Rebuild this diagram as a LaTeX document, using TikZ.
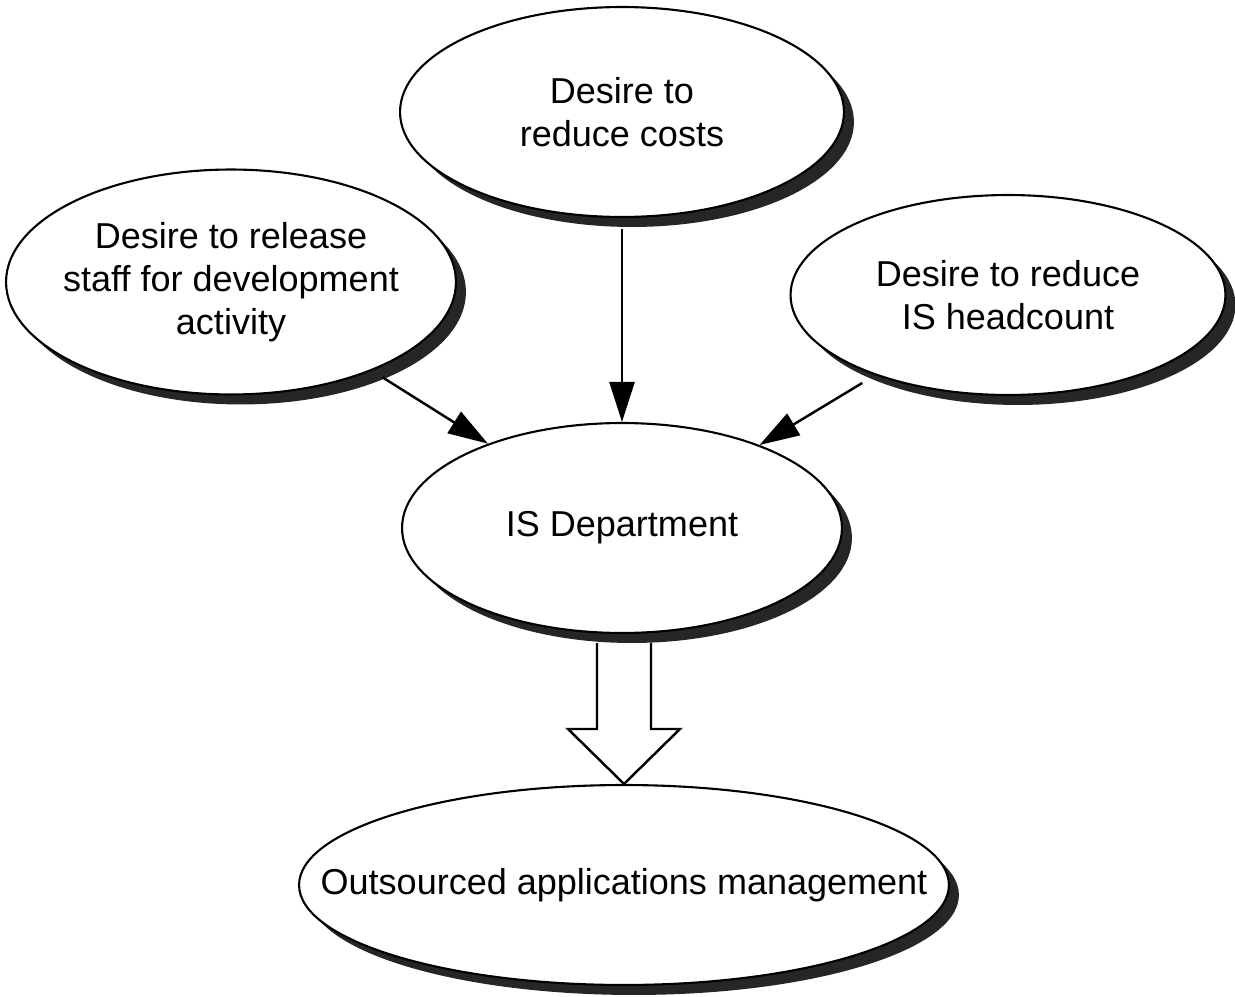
\documentclass[tikz,border=0pt]{standalone}
\usepackage{fontspec}
\setmainfont{Liberation Sans}
\usepackage{tikz}
\usetikzlibrary{shapes.geometric,shadows,arrows.meta}

\begin{document}
\begin{tikzpicture}[x=0.02cm,y=-0.02cm]
      \tikzstyle{every node}=[draw,ellipse,fill=white,line width=1.2pt,
			      align=center,inner xsep=-2cm,inner ysep=-1cm,
			      font=\fontsize{20.5}{24.5}\selectfont,
			      drop shadow={shadow xshift=0.2cm,shadow yshift=-0.2cm,
					   opacity=1,fill=black!85}]
      \tikzstyle{cause}=[line width=1.4pt,
			 -{Triangle[length=0.8cm,width=0.5cm]}]
      \useasboundingbox (0,0) rectangle (1235,997);
      \node (costs) at (622,112) [minimum width=8.88cm,minimum height=4.2cm]
	  {Desire to\\reduce costs};
      \node (release) at (231,282) [minimum width=9.0cm,minimum height=4.5cm]
	  {Desire to release\\staff for development\\activity};
      \node (headcount) at (1008,295) [minimum width=8.7cm,minimum height=4.0cm]
	  {Desire to reduce\\IS headcount};
      \node (isdept) at (622,528) [minimum width=8.8cm,minimum height=4.2cm]
	  {IS Department};
      \node (outsource) at (624,885) [minimum width=13cm,minimum height=4.0cm]
	  {Outsourced applications management};
      % thin arrows into the IS department
      \draw[cause,shorten <=0.22cm] (costs) -- (isdept);
      \draw[cause,shorten <=0.25cm] (release) -- (isdept);
      \draw[cause,shorten <=0.3cm] (headcount) -- (isdept);
      % block arrow
      \draw[line width=1.4pt]
	  ([xshift=-0.54cm,yshift=-0.18cm]isdept.south -| outsource.north)
	  -- ([xshift=-0.54cm,yshift=1.1cm]outsource.north)
	  -- ([xshift=-1.12cm,yshift=1.1cm]outsource.north)
	  -- (outsource.north)
	  -- ([xshift=1.12cm,yshift=1.1cm]outsource.north)
	  -- ([xshift=0.54cm,yshift=1.1cm]outsource.north)
	  -- ([xshift=0.54cm,yshift=-0.18cm]isdept.south -| outsource.north);
  \end{tikzpicture}
\end{document}
